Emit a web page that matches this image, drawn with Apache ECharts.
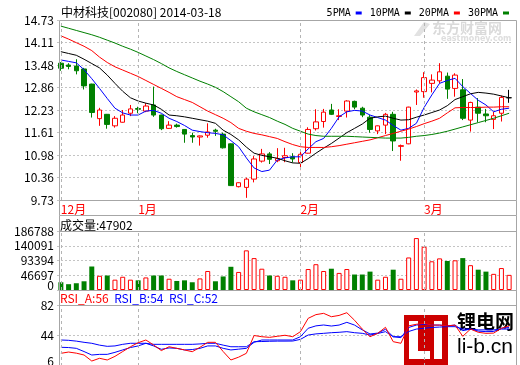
<!DOCTYPE html>
<html><head><meta charset="utf-8">
<script src="https://cdn.jsdelivr.net/npm/echarts@6/dist/echarts.min.js"></script>
<style>html,body{margin:0;padding:0;background:#fff}#c{width:520px;height:365px}</style>
</head><body><div id="c"></div>
<script>
const stockTitle = '中材科技[002080] 2014-03-18';
const dates = ['2013-12-18','2013-12-19','2013-12-20','2013-12-23','2013-12-24','2013-12-25','2013-12-26','2013-12-27','2013-12-30','2013-12-31',
'2014-01-02','2014-01-03','2014-01-06','2014-01-07','2014-01-08','2014-01-09','2014-01-10','2014-01-13','2014-01-14','2014-01-15',
'2014-01-16','2014-01-17','2014-01-20','2014-01-21','2014-01-22','2014-01-23','2014-01-24','2014-01-27','2014-01-28','2014-01-29',
'2014-01-30','2014-02-07','2014-02-10','2014-02-11','2014-02-12','2014-02-13','2014-02-14','2014-02-17','2014-02-18','2014-02-19',
'2014-02-20','2014-02-21','2014-02-24','2014-02-25','2014-02-26','2014-02-27','2014-02-28','2014-03-03','2014-03-04','2014-03-05',
'2014-03-06','2014-03-07','2014-03-10','2014-03-11','2014-03-12','2014-03-13','2014-03-14','2014-03-17','2014-03-18'];
const opens = [13.53,13.48,13.45,13.37,12.95,11.99,12.11,11.79,11.89,12.14,
12.27,12.20,12.37,12.09,11.72,11.81,11.69,11.52,11.48,11.53,
11.67,11.56,11.29,10.10,10.08,10.31,10.81,11.01,10.82,10.91,
10.93,10.77,11.03,11.71,11.91,12.23,12.05,12.20,12.47,12.28,
12.03,11.65,11.81,12.11,11.22,11.29,12.73,12.74,12.97,13.04,
13.17,12.83,12.79,11.95,12.31,12.12,11.97,12.14,12.57];
const closes = [13.39,13.44,13.32,12.90,12.16,12.23,11.83,12.00,12.09,12.26,
12.25,12.34,12.09,11.71,11.81,11.77,11.56,11.48,11.51,11.62,
11.64,11.18,10.13,10.21,10.31,10.87,11.01,10.86,10.88,10.96,
10.87,11.00,11.69,11.90,12.17,12.11,12.07,12.48,12.31,12.09,
11.69,11.79,12.11,11.37,11.24,12.31,12.76,13.13,13.06,13.29,
12.81,13.20,12.00,12.44,12.14,12.07,12.07,12.58,12.57];
const lows = [13.32,13.36,13.22,12.80,12.02,11.79,11.71,11.74,11.88,12.06,
12.14,12.17,12.04,11.67,11.71,11.74,11.32,11.32,11.24,11.46,
11.51,11.16,10.12,10.08,9.79,10.22,10.77,10.73,10.78,10.78,
10.77,10.56,11.02,11.66,11.74,12.09,11.95,12.02,12.25,12.03,
11.60,11.56,11.56,11.09,10.82,11.28,12.37,12.57,12.72,12.97,
12.54,12.60,11.95,11.63,11.89,11.89,11.70,11.91,12.43];
const highs = [13.56,13.53,13.64,13.40,12.96,12.29,12.12,12.06,12.23,12.37,
12.32,12.42,12.88,12.10,11.92,11.85,11.70,11.60,11.52,11.86,
11.71,11.60,11.30,10.22,10.35,10.95,11.15,11.06,11.17,11.18,
11.03,11.07,11.75,12.25,12.26,12.40,12.25,12.50,12.49,12.32,
12.09,11.80,12.15,12.18,11.27,12.32,12.80,13.28,13.22,13.53,
13.27,13.25,13.09,12.46,12.56,12.26,12.18,12.63,12.79];
const ma5 = [13.62,13.58,13.54,13.35,13.10,12.83,12.55,12.28,12.15,12.09,
12.09,12.20,12.22,12.14,12.00,11.91,11.80,11.67,11.63,11.60,
11.58,11.54,11.38,11.21,10.90,10.62,10.52,10.56,10.84,10.90,
10.93,10.93,11.15,11.35,11.44,11.72,12.04,12.18,12.22,12.20,
12.09,12.02,11.95,11.80,11.67,11.72,11.86,12.30,12.65,12.97,
13.05,13.11,12.88,12.69,12.50,12.37,12.18,12.25,12.28];
const ma10 = [13.85,13.80,13.75,13.64,13.52,13.40,13.20,12.97,12.75,12.57,
12.48,12.42,12.37,12.25,12.09,12.07,12.04,12.00,11.96,11.92,
11.86,11.67,11.55,11.40,11.20,11.03,10.97,10.93,10.89,10.82,
10.76,10.75,10.88,11.03,11.17,11.30,11.45,11.60,11.72,11.84,
12.00,12.04,12.06,12.00,11.95,11.96,12.03,12.09,12.16,12.23,
12.35,12.52,12.60,12.68,12.72,12.70,12.67,12.62,12.57];
const ma20 = [14.29,14.20,14.10,14.00,13.88,13.70,13.55,13.43,13.34,13.25,
13.16,13.05,12.94,12.83,12.72,12.60,12.52,12.44,12.32,12.20,
12.10,12.00,11.88,11.72,11.64,11.58,11.54,11.49,11.44,11.35,
11.27,11.21,11.19,11.19,11.19,11.21,11.24,11.28,11.32,11.36,
11.40,11.46,11.52,11.58,11.64,11.70,11.77,11.85,11.92,12.00,
12.15,12.29,12.30,12.30,12.30,12.31,12.31,12.32,12.32];
const ma30 = [14.56,14.50,14.44,14.38,14.32,14.25,14.17,14.09,14.00,13.92,
13.83,13.73,13.63,13.52,13.40,13.30,13.21,13.12,13.03,12.95,
12.86,12.74,12.60,12.46,12.28,12.18,12.10,12.02,11.92,11.83,
11.72,11.64,11.56,11.52,11.50,11.50,11.50,11.50,11.49,11.48,
11.47,11.46,11.45,11.45,11.45,11.47,11.50,11.52,11.55,11.59,
11.64,11.70,11.76,11.82,11.88,11.94,12.00,12.07,12.14];
const volumes = [24500,18400,21400,27600,74400,45000,45900,32700,41900,32700,
30600,39800,45900,45900,35700,28600,30600,24500,36700,60200,
27600,42900,73500,57100,125500,101000,67400,45900,45000,41900,
30600,32700,66400,81700,60200,67400,54100,66400,49000,49000,
58200,32700,41900,64300,35700,103000,164400,136900,90900,100100,
91900,94000,101000,78600,64300,58200,51100,69500,47902];
const rsiA = [21.8,23.4,22.0,19.7,12.2,15.6,13.5,18.0,24.0,30.0,
35.0,38.4,32.2,25.2,30.0,28.0,26.0,23.8,29.3,35.5,
35.5,24.0,13.5,17.0,21.8,44.0,42.5,41.7,43.0,44.3,
42.5,48.8,65.4,70.0,71.6,67.4,69.0,72.4,63.0,52.0,
42.5,46.7,54.2,36.3,34.3,56.0,58.0,59.0,57.0,57.0,
56.0,57.0,43.0,52.0,48.0,46.7,47.0,53.0,56];
const rsiB = [29.3,29.0,28.0,24.0,19.7,20.5,20.5,23.0,26.0,29.0,
31.0,34.3,31.0,26.8,28.5,28.0,26.0,26.5,28.0,31.0,
31.0,28.0,26.0,27.0,28.0,35.5,38.4,38.4,38.4,38.4,
38.4,42.5,53.0,56.0,57.1,55.8,57.0,60.4,57.0,51.0,
45.9,47.0,51.7,42.5,41.3,54.0,57.0,58.0,57.0,57.0,
56.0,57.0,50.0,52.0,49.5,48.8,49.0,53.0,54];
const rsiC = [38.4,38.0,37.0,35.5,34.3,32.0,30.5,31.0,33.0,34.3,
34.3,34.3,33.0,33.0,33.0,33.0,33.0,33.0,33.5,34.3,
34.3,32.0,30.0,30.0,30.0,36.3,36.5,36.8,37.0,37.0,
37.1,39.2,44.6,46.0,46.7,47.5,48.0,48.8,47.5,46.7,
44.6,46.5,48.8,42.5,42.5,49.0,52.0,53.0,54.0,54.5,
55.0,55.0,52.0,52.0,51.0,51.0,51.0,52.0,52];
const priceTicks = [9.73,10.36,10.98,11.61,12.23,12.86,13.48,14.11,14.73];
const volumeTicks = [0,46697,93394,140091,186788];
const rsiTicks = [6,44,82];
const maNames = ['5PMA','10PMA','20PMA','30PMA'];

const FONT = '"Noto Sans CJK SC","Noto Sans",sans-serif';
const MONO = '"DejaVu Sans Mono",monospace';
const RED = '#ff0000', GREEN = '#008000', BLUE = '#0000ff', FRAME = '#a6a6a6', GRIDC = '#c4c4c4';
const last = a => a[a.length - 1];
const nearest = (arr, v) => arr.reduce((a, b) => Math.abs(b - v) < Math.abs(a - v) ? b : a);
const monthStarts = dates.map((d, i) => i === 0 || d.slice(0, 7) !== dates[i - 1].slice(0, 7) ? i : -1).filter(i => i >= 0);
const vLines = { symbol: ['none', 'none'], silent: true, animation: false, label: { show: false },
  lineStyle: { color: '#b4b4b4', type: [3, 3], width: 1 }, emphasis: { disabled: true },
  data: monthStarts.map(i => ({ xAxis: dates[i] })) };

const gridBase = { left: 57, right: 7, outerBoundsMode: 'none', containLabel: false };
const xBase = (gi, showLabel) => ({
  type: 'category', gridIndex: gi, data: dates, boundaryGap: true,
  axisLine: { show: false }, axisTick: { show: false }, splitLine: { show: false },
  axisLabel: showLabel ? {
    show: true, interval: (idx) => monthStarts.includes(idx),
    formatter: (v) => parseInt(v.slice(5, 7), 10) + '月',
    color: RED, fontSize: 12, fontFamily: FONT, align: 'left', margin: 3
  } : { show: false }
});
const labelRich = { z: { fontSize: 12, fontFamily: FONT, color: '#000', padding: [0, 0, 10, 0] } };
const yBase = (gi, ticks, fmt, extra) => Object.assign({
  type: 'value', gridIndex: gi, min: ticks[0], max: last(ticks), position: 'left', offset: 0,
  interval: (last(ticks) - ticks[0]) / (ticks.length - 1),
  axisLine: { show: false }, axisTick: { show: false },
  splitLine: { show: true, lineStyle: { color: GRIDC, type: [2, 2], width: 1 } },
  axisLabel: { color: '#000', fontSize: 12, fontFamily: FONT, margin: 3, formatter: fmt, rich: labelRich }
}, extra || {});

const maSeries = [ma5, ma10, ma20, ma30].map((d, k) => ({
  name: maNames[k], type: 'line', xAxisIndex: 0, yAxisIndex: 0, data: d,
  symbol: 'none', showSymbol: false, color: [BLUE, '#000000', RED, GREEN][k],
  lineStyle: { width: 1, color: [BLUE, '#000000', RED, GREEN][k] }, emphasis: { disabled: true }, z: 3
}));

const volMinAxis = yBase(1, [volumeTicks[0], last(volumeTicks)],
  v => (nearest(volumeTicks, v) === volumeTicks[0] ? '{z|' + volumeTicks[0] + '}' : ''),
  { splitLine: { show: false } });
volMinAxis.axisLabel.showMinLabel = true;

const option = {
  animation: false,
  backgroundColor: '#fff',
  textStyle: { fontFamily: FONT },
  title: [
    { text: stockTitle, left: 61, top: 6, padding: 0, textStyle: { fontSize: 12, fontWeight: 'normal', color: '#000', fontFamily: FONT } },
    { text: '成交量:' + last(volumes), left: 60, top: 219, padding: 0, textStyle: { fontSize: 12, fontWeight: 'normal', color: '#000', fontFamily: FONT } },
    { text: '{a|RSI_A:' + last(rsiA) + '}  {b|RSI_B:' + last(rsiB) + '}  {b|RSI_C:' + last(rsiC) + '}',
      left: 60, top: 292, padding: 0,
      textStyle: { fontSize: 12, fontWeight: 'normal', fontFamily: FONT, lineHeight: 12,
        rich: { a: { color: RED, fontSize: 12, fontFamily: FONT, lineHeight: 12 }, b: { color: BLUE, fontSize: 12, fontFamily: FONT, lineHeight: 12 } } } }
  ],
  legend: {
    data: maNames, right: 11, top: 8, padding: 0, align: 'right', icon: 'rect',
    itemWidth: 6, itemHeight: 3, itemGap: 8, selectedMode: false,
    textStyle: { fontSize: 10, color: '#000', fontFamily: MONO, padding: [0, 0, 0, -2] }
  },
  grid: [
    Object.assign({ top: 20, height: 180 }, gridBase),
    Object.assign({ top: 231, height: 59 }, gridBase),
    Object.assign({ top: 305, height: 61 }, gridBase)
  ],
  xAxis: [xBase(0, true), xBase(1, false), xBase(2, false)],
  yAxis: [
    yBase(0, priceTicks, v => nearest(priceTicks, v).toFixed(2)),
    yBase(1, volumeTicks, v => { const t = nearest(volumeTicks, v); return t === volumeTicks[0] ? '' : String(t); }),
    yBase(2, rsiTicks, v => { const t = nearest(rsiTicks, v); return t === rsiTicks[0] ? '{z|' + t + '}' : String(t); }),
    volMinAxis
  ],
  series: [
    {
      type: 'candlestick', xAxisIndex: 0, yAxisIndex: 0, barWidth: 5, z: 2,
      data: dates.map((d, i) => [opens[i], closes[i], lows[i], highs[i]]),
      itemStyle: { color: '#ffffff', color0: GREEN, borderColor: RED, borderColor0: GREEN, borderColorDoji: '#000000', borderWidth: 1 },
      emphasis: { disabled: true },
      markLine: vLines
    },
    ...maSeries,
    {
      type: 'bar', xAxisIndex: 1, yAxisIndex: 1, barWidth: 5,
      data: volumes.map((v, i) => ({
        value: v,
        itemStyle: closes[i] >= opens[i]
          ? { color: '#ffffff', borderColor: RED, borderWidth: 1 }
          : { color: GREEN, borderColor: GREEN, borderWidth: 0 }
      })),
      emphasis: { disabled: true },
      markLine: vLines
    },
    { type: 'line', xAxisIndex: 2, yAxisIndex: 2, data: rsiA, symbol: 'none', color: RED, lineStyle: { width: 1, color: RED }, z: 4, emphasis: { disabled: true }, markLine: vLines },
    { type: 'line', xAxisIndex: 2, yAxisIndex: 2, data: rsiB, symbol: 'none', color: BLUE, lineStyle: { width: 1, color: BLUE }, z: 3, emphasis: { disabled: true } },
    { type: 'line', xAxisIndex: 2, yAxisIndex: 2, data: rsiC, symbol: 'none', color: BLUE, lineStyle: { width: 1, color: BLUE }, z: 3, emphasis: { disabled: true } }
  ],
  graphic: { elements: [
    { type: 'text', x: 432, y: 21, z: 0, silent: true, style: { text: '东方财富网', fill: '#dadada', fontSize: 14, fontWeight: 'bold', fontFamily: FONT, verticalAlign: 'top' } },
    { type: 'text', x: 441, y: 35, z: 0, silent: true, style: { text: 'eastmoney.com', fill: '#dedede', fontSize: 8, fontWeight: 'bold', fontFamily: '"DejaVu Sans",sans-serif', verticalAlign: 'top' } },
    { type: 'polygon', z: 0, silent: true, shape: { points: [[414, 36], [424, 22], [430, 24], [420, 36]] }, style: { fill: '#e2e2e2' } },
    { type: 'rect', z: 1, silent: true, shape: { x: 404, y: 315, width: 44, height: 50 }, style: { fill: '#cc0000' } },
    { type: 'rect', z: 1, silent: true, shape: { x: 409, y: 321, width: 9, height: 38 }, style: { fill: '#ffffff' } },
    { type: 'rect', z: 1, silent: true, shape: { x: 409, y: 351, width: 21, height: 8 }, style: { fill: '#ffffff' } },
    { type: 'rect', z: 1, silent: true, shape: { x: 434, y: 321, width: 8, height: 38 }, style: { fill: '#ffffff' } },
    { type: 'text', x: 457, y: 312, z: 1, silent: true, style: { text: '锂电网', fill: '#000', fontSize: 19, fontWeight: 'bold', fontFamily: FONT, verticalAlign: 'top' } },
    { type: 'text', x: 457, y: 337, z: 1, silent: true, style: { text: 'li-b.cn', fill: '#000', fontSize: 21, fontFamily: '"Liberation Sans",Arial,sans-serif', verticalAlign: 'top' } },
    { type: 'rect', z: 50, silent: true, shape: { x: 59.5, y: 20.5, width: 457, height: 180 }, style: { fill: 'transparent', stroke: FRAME, lineWidth: 1 } },
    { type: 'line', z: 50, silent: true, shape: { x1: 59.5, y1: 200.5, x2: 59.5, y2: 215.5 }, style: { stroke: FRAME, lineWidth: 1 } },
    { type: 'line', z: 50, silent: true, shape: { x1: 516.5, y1: 200.5, x2: 516.5, y2: 215.5 }, style: { stroke: FRAME, lineWidth: 1 } },
    { type: 'rect', z: 50, silent: true, shape: { x: 59.5, y: 215.5, width: 457, height: 75 }, style: { fill: 'transparent', stroke: FRAME, lineWidth: 1 } },
    { type: 'line', z: 50, silent: true, shape: { x1: 59.5, y1: 231.5, x2: 516.5, y2: 231.5 }, style: { stroke: FRAME, lineWidth: 1 } },
    { type: 'rect', z: 50, silent: true, shape: { x: 59.5, y: 290.5, width: 457, height: 80 }, style: { fill: 'transparent', stroke: FRAME, lineWidth: 1 } },
    { type: 'line', z: 50, silent: true, shape: { x1: 59.5, y1: 305.5, x2: 516.5, y2: 305.5 }, style: { stroke: FRAME, lineWidth: 1 } }
  ] }
};
const chart = echarts.init(document.getElementById('c'), null, { renderer: 'canvas', width: 520, height: 365 });
chart.setOption(option);
</script>
</body></html>
